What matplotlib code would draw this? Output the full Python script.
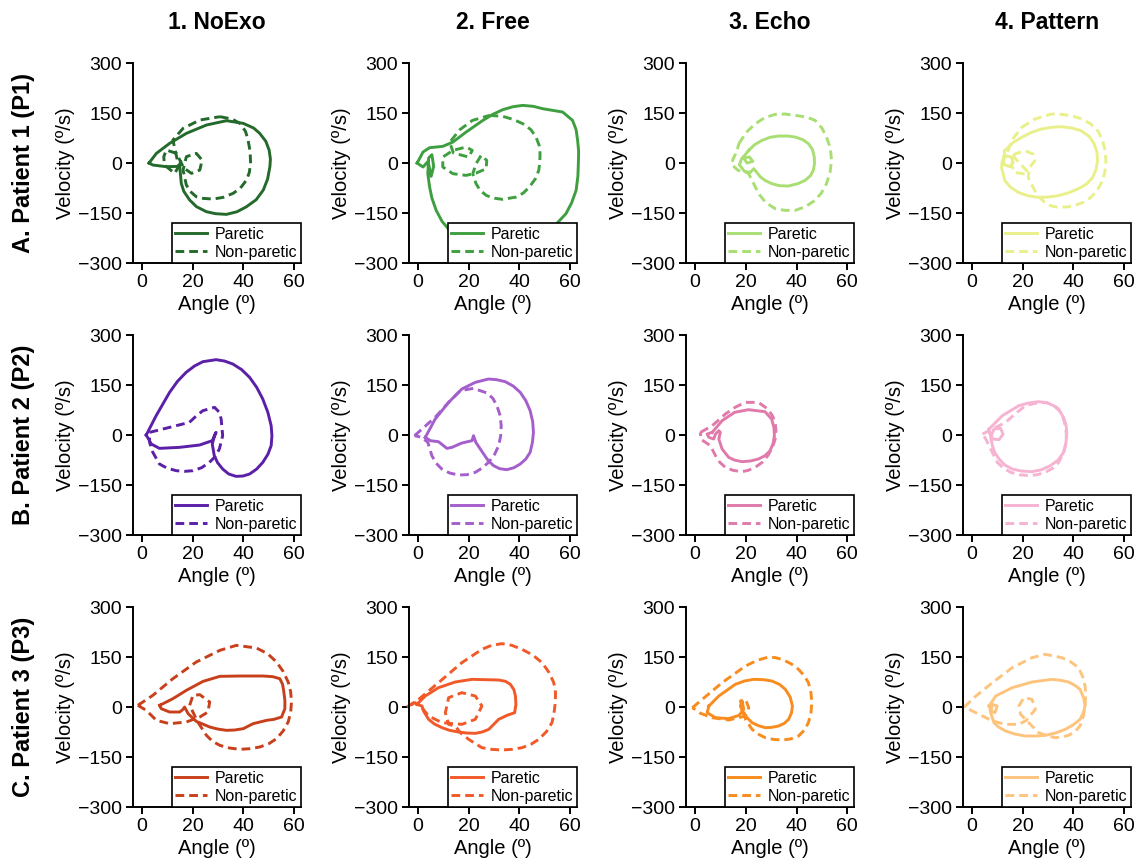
import matplotlib.pyplot as plt
from matplotlib.lines import Line2D

plt.rcParams['font.family'] = ['Liberation Sans', 'DejaVu Sans']

conditions = ["1. NoExo", "2. Free", "3. Echo", "4. Pattern"]
patients = ["A. Patient 1 (P1)", "B. Patient 2 (P2)", "C. Patient 3 (P3)"]
yticks = [-300, -150, 0, 150, 300]
xticks = [0, 20, 40, 60]

colors = [
    ["#236a2b", "#3f9f40", "#a9de72", "#e9f08a"],
    ["#5b1fa8", "#a55fcc", "#e07aab", "#f6b3d2"],
    ["#c8401b", "#f15a28", "#f88c1e", "#fec47d"],
]

# (angle deg, velocity deg/s)
A1_PAR = [(2.8, 0), (5.7, 29), (10.9, 59), (17.5, 89), (25.4, 114), (33.3, 127), (39.9, 119),
          (44.0, 105), (46.4, 89), (48.8, 65), (50.1, 39), (50.6, 12), (50.4, -11), (49.5, -48),
          (47.8, -81), (45.0, -110), (41.2, -131), (37.5, -146), (33.3, -154), (29.0, -152),
          (25.4, -146), (21.5, -131), (18.8, -111), (16.5, -85), (15.5, -61), (14.9, -11),
          (15.3, 5), (14.6, -10), (9.6, -11), (4.3, -6), (2.8, 0)]
A1_NON = [(30.7, 139), (35.5, 132), (38.6, 119), (40.8, 95), (41.8, 69), (42.6, 35), (42.8, -1),
          (42.3, -28), (41.2, -51), (38.8, -75), (35.9, -91), (32.0, -103), (28.0, -108),
          (24.0, -106), (21.4, -101), (19.0, -85), (17.5, -66), (16.2, -21), (17.5, 19),
          (21.4, 29), (23.7, 9), (22.8, -21), (19.5, -31), (16.5, -15), (13.6, 29), (9.6, 39),
          (8.6, 19), (8.9, -6), (12.9, -31), (14.5, -10), (12.2, 69), (16.2, 104), (22.8, 129),
          (30.7, 139)]
A2_PAR = [(-0.3, 0), (2.0, 33), (4.6, 46), (9.8, 50), (13.8, 63), (19.0, 93), (25.6, 128),
          (29.5, 146), (33.4, 160), (37.5, 169), (41.3, 173), (45.5, 170), (49.1, 163),
          (57.0, 153), (60.9, 128), (62.3, 100), (62.9, 68), (63.3, 35), (63.2, 0), (63.0, -40),
          (62.3, -82), (60.5, -120), (58.3, -152), (53.0, -195), (45.0, -222), (32.0, -232),
          (20.0, -220), (12.5, -202), (9.5, -175), (7.2, -142), (5.5, -105), (4.6, -72),
          (3.9, -32), (4.2, 15), (5.5, 25), (6.2, -10), (5.2, -40), (4.0, 5), (2.0, -12),
          (-0.3, 0)]
A2_NON = [(28.2, 143), (33.4, 140), (37.5, 131), (41.3, 118), (44.5, 100), (46.5, 78),
          (47.8, 52), (48.1, 28), (48.0, 3), (47.6, -22), (46.2, -48), (43.9, -72), (41.5, -90),
          (38.7, -102), (33.4, -109), (29.5, -105), (26.9, -97), (24.5, -82), (22.9, -62),
          (21.6, -32), (22.9, -2), (24.9, 23), (27.1, 8), (26.9, -17), (23.0, -30), (19.0, -37),
          (13.8, -32), (9.8, -12), (9.8, 18), (13.8, 38), (19.0, 48), (21.4, 38), (20.0, 18),
          (14.0, 30), (12.5, 62), (16.5, 100), (21.5, 128), (28.2, 143)]
A3_PAR = [(21.2, 38), (23.5, 55), (26.4, 68), (29.5, 77), (32.9, 81), (36.5, 81), (39.5, 78),
          (42.5, 70), (44.7, 58), (46.3, 40), (47.0, 18), (47.1, -2), (46.6, -22), (45.5, -38),
          (43.4, -52), (40.5, -62), (36.8, -69), (33.3, -68), (30.3, -62), (27.8, -53),
          (25.8, -42), (23.2, -17), (21.8, -28), (19.5, -25), (17.5, -5), (18.5, 15),
          (21.5, 18), (22.8, 5), (20.5, 0), (19.0, 18), (21.2, 38)]
A3_NON = [(17.3, 58), (20.2, 92), (23.8, 118), (27.5, 136), (31.6, 146), (35.5, 147),
          (39.5, 143), (44.0, 138), (47.3, 128), (50.0, 105), (51.8, 78), (53.3, 45), (53.8, 8),
          (53.2, -28), (51.8, -62), (49.8, -90), (47.3, -112), (43.5, -131), (39.5, -142),
          (35.5, -142), (31.6, -137), (27.8, -118), (25.1, -92), (22.5, -52), (21.0, -30),
          (17.0, -22), (14.5, -5), (15.0, 12), (16.5, 35), (17.3, 58)]
A4_PAR = [(13.0, 37), (16.0, 60), (19.6, 77), (23.5, 92), (27.4, 102), (31.3, 107), (35.2, 109),
          (39.5, 105), (43.0, 97), (46.2, 80), (48.2, 57), (49.3, 32), (49.5, 7), (48.9, -20),
          (47.6, -43), (45.2, -63), (41.7, -78), (37.8, -90), (33.9, -98), (30.0, -102),
          (26.1, -103), (22.0, -98), (18.3, -88), (15.3, -73), (13.0, -53), (11.7, -13),
          (12.0, 7), (13.8, 22), (15.6, 17), (16.3, 2), (15.0, -11), (12.8, -5), (12.4, 12),
          (13.0, 37)]
A4_NON = [(19.6, 107), (24.8, 132), (31.3, 147), (35.5, 146), (39.1, 142), (43.5, 132),
          (46.9, 117), (49.8, 95), (51.5, 67), (52.5, 37), (52.8, 7), (52.4, -25), (51.5, -53),
          (49.5, -80), (46.9, -103), (43.8, -118), (40.4, -128), (37.0, -132), (33.9, -133),
          (31.0, -128), (28.7, -118), (26.5, -102), (24.8, -83), (22.2, -43), (22.8, -13),
          (24.8, 7), (24.1, 27), (20.9, 37), (16.9, 27), (15.6, -8), (16.9, -28), (20.9, -33),
          (22.2, -28), (14.3, 37), (15.6, 67), (19.6, 107)]

B1_PAR = [(1.7, 0), (5.6, 58), (10.9, 128), (14.0, 161), (17.4, 188), (20.7, 207), (24.0, 220),
          (29.2, 226), (32.5, 222), (35.8, 213), (39.3, 196), (42.4, 173), (45.2, 143),
          (47.6, 108), (49.6, 68), (50.9, 28), (51.2, -2), (50.9, -32), (49.6, -58),
          (47.6, -82), (45.2, -102), (42.4, -117), (39.8, -123), (37.1, -124), (34.2, -117),
          (31.8, -102), (29.8, -83), (28.5, -62), (27.7, -27), (28.6, -2), (29.2, 8),
          (27.7, -17), (22.7, -30), (14.8, -37), (6.9, -40), (3.7, -27), (1.7, 0)]
B1_NON = [(3.0, 8), (10.9, 23), (18.7, 38), (21.5, 58), (24.0, 73), (28.6, 83), (30.5, 68),
          (31.2, 48), (31.8, -2), (30.5, -42), (28.8, -65), (26.6, -82), (23.5, -98),
          (20.1, -107), (16.8, -109), (13.5, -107), (9.8, -99), (6.9, -87), (4.3, -52),
          (3.0, -22), (3.0, 8)]
B2_PAR = [(2.9, -7), (6.8, 48), (12.1, 98), (17.3, 138), (22.6, 158), (27.8, 168), (31.0, 166),
          (34.4, 160), (37.5, 147), (40.3, 128), (42.5, 103), (44.2, 73), (45.2, 40), (45.5, 8),
          (45.1, -22), (44.2, -52), (42.5, -72), (40.3, -87), (37.8, -98), (35.0, -104),
          (32.2, -101), (29.8, -92), (27.6, -76), (25.9, -57), (22.8, -22), (21.9, -2),
          (21.3, -17), (17.3, -24), (13.4, -37), (11.4, -40), (8.1, -20), (4.9, -17),
          (2.9, -7)]
B2_NON = [(-1.3, -2), (1.6, 18), (6.8, 53), (12.1, 98), (16.7, 133), (21.9, 140), (27.2, 126),
          (29.5, 110), (31.1, 88), (32.4, 58), (32.8, 28), (32.6, -2), (31.8, -32),
          (30.2, -58), (27.8, -82), (25.3, -99), (22.6, -112), (19.3, -119), (16.0, -120),
          (12.5, -114), (9.4, -102), (7.0, -83), (5.5, -62), (3.9, -22), (1.6, -7), (-1.3, -2)]
B3_PAR = [(6.8, 8), (10.7, 43), (15.6, 68), (21.1, 76), (27.6, 70), (30.2, 48), (31.1, 23),
          (31.3, -2), (30.8, -25), (29.6, -47), (27.6, -62), (25.0, -72), (21.8, -78),
          (18.5, -80), (15.5, -75), (13.3, -67), (10.7, -42), (9.4, -12), (10.0, 8), (9.4, 13),
          (8.1, 3), (7.4, -12), (5.5, -7), (4.8, 3), (6.8, 8)]
B3_NON = [(2.2, 8), (6.8, 28), (12.0, 63), (15.8, 83), (19.8, 98), (25.0, 98), (28.7, 78),
          (30.5, 58), (31.6, 38), (31.9, 13), (31.6, -12), (30.5, -38), (28.7, -62),
          (26.5, -82), (23.7, -97), (21.0, -106), (18.5, -110), (15.0, -106), (12.0, -97),
          (9.8, -82), (8.1, -62), (6.1, -32), (2.2, -12), (2.2, 8)]
B4_PAR = [(6.8, 18), (12.0, 58), (18.5, 88), (22.3, 96), (26.3, 100), (29.5, 97), (32.2, 88),
          (34.5, 73), (36.1, 53), (37.1, 30), (37.4, 8), (37.1, -22), (36.1, -52), (34.0, -75),
          (30.9, -92), (27.5, -104), (23.7, -110), (19.5, -108), (15.9, -102), (13.0, -90),
          (10.7, -72), (9.0, -52), (8.1, -32), (7.4, -7), (8.7, 18), (11.3, 20), (12.3, 3),
          (10.7, -14), (8.3, -12), (6.8, 8), (6.8, 18)]
B4_NON = [(4.2, 3), (8.1, 18), (13.3, 38), (17.0, 63), (21.1, 88), (24.8, 95), (28.9, 98),
          (32.0, 91), (34.2, 78), (35.8, 55), (36.8, 28), (37.2, 3), (37.2, -22), (36.2, -52),
          (34.2, -82), (31.8, -100), (28.9, -112), (25.8, -119), (22.4, -122), (18.7, -119),
          (15.3, -112), (12.4, -99), (10.0, -82), (7.4, -42), (5.5, -12), (4.2, 3)]

C1_PAR = [(7.0, 5), (12.2, 25), (17.5, 50), (24.1, 77), (30.7, 92), (38.6, 93), (47.8, 93),
          (51.5, 91), (54.3, 85), (55.4, 68), (55.9, 45), (56.3, 20), (56.3, -5), (55.0, -30),
          (52.0, -37), (49.1, -40), (43.8, -50), (39.9, -65), (36.5, -69), (33.3, -70),
          (29.8, -66), (26.7, -60), (21.4, -43), (18.2, -20), (16.8, 0), (16.2, -7),
          (14.9, -15), (10.9, -15), (7.6, -5), (7.0, 5)]
C1_NON = [(-1.6, 5), (4.3, 35), (12.2, 85), (21.4, 135), (30.7, 170), (37.2, 185), (45.1, 177),
          (49.5, 160), (53.0, 135), (55.6, 107), (57.6, 75), (58.6, 45), (58.9, 15),
          (58.6, -15), (57.6, -45), (55.6, -72), (53.0, -95), (50.0, -110), (46.4, -120),
          (42.5, -125), (38.6, -127), (34.5, -123), (30.7, -115), (27.8, -103), (25.4, -85),
          (22.0, -45), (18.8, 5), (20.1, 35), (22.8, 37), (26.7, 15), (26.0, -15), (22.8, -30),
          (17.5, -45), (10.9, -50), (5.7, -40), (1.7, -10), (-1.6, 5)]
C2_PAR = [(-0.4, 8), (2.9, 33), (8.1, 58), (14.7, 75), (21.3, 83), (31.8, 81), (34.5, 77),
          (36.4, 68), (37.8, 52), (38.4, 33), (38.6, 8), (38.1, -17), (35.1, -25), (31.8, -37),
          (27.9, -67), (25.3, -75), (22.6, -79), (19.2, -78), (16.0, -75), (12.5, -70),
          (9.5, -62), (6.5, -51), (4.2, -37), (2.2, -12), (1.6, 3), (-0.4, 8)]
C2_NON = [(-4.3, 0), (0.3, 23), (8.1, 73), (17.3, 133), (25.2, 173), (29.0, 185), (33.1, 190),
          (37.0, 185), (41.0, 173), (45.2, 156), (48.9, 133), (51.6, 104), (53.5, 73),
          (54.2, 43), (54.1, 13), (53.6, -18), (52.8, -47), (50.6, -74), (47.6, -97),
          (44.5, -112), (41.0, -122), (37.0, -127), (33.1, -129), (29.0, -127), (25.2, -122),
          (20.0, -97), (16.7, -77), (14.7, -57), (12.1, -52), (10.8, -17), (12.1, 28),
          (17.3, 43), (22.6, 33), (25.2, 3), (22.6, -37), (17.3, -52), (9.5, -47), (4.2, -27),
          (1.6, -2), (-1.1, 13), (-4.3, 0)]
C3_PAR = [(5.5, 3), (9.4, 33), (15.9, 68), (19.5, 78), (23.1, 83), (27.0, 82), (30.3, 78),
          (33.3, 68), (35.6, 53), (37.5, 30), (38.4, 3), (38.0, -18), (36.9, -37), (35.2, -49),
          (32.9, -57), (30.3, -61), (27.7, -62), (25.0, -56), (22.5, -47), (19.2, -22),
          (17.9, 3), (18.6, 18), (19.2, -7), (17.4, -25), (13.3, -35), (8.1, -32), (4.8, -17),
          (5.5, 3)]
C3_NON = [(-1.0, -2), (2.9, 23), (10.7, 73), (19.9, 123), (24.5, 140), (29.0, 150),
          (31.8, 148), (34.2, 143), (37.8, 130), (40.8, 113), (43.0, 94), (44.7, 73),
          (45.7, 43), (46.0, 13), (45.7, -17), (44.7, -47), (43.0, -70), (40.8, -87),
          (37.6, -96), (34.2, -99), (30.8, -97), (27.7, -92), (24.8, -81), (22.5, -67),
          (19.9, -37), (19.2, -7), (17.9, 18), (19.9, 23), (21.2, -2), (19.9, -27),
          (13.3, -39), (6.8, -32), (2.2, -19), (-1.0, -2)]
C4_PAR = [(6.8, 3), (9.4, 33), (15.9, 58), (23.7, 75), (31.6, 83), (35.0, 80), (38.1, 75),
          (40.6, 65), (42.6, 53), (44.0, 28), (44.6, 3), (43.9, -18), (42.6, -37), (40.0, -53),
          (36.8, -67), (32.9, -78), (28.9, -85), (25.0, -87), (21.1, -87), (16.9, -81),
          (13.3, -72), (10.5, -60), (8.7, -47), (7.4, -17), (8.1, 8), (10.0, 3), (9.1, -17),
          (7.4, -12), (6.8, 3)]
C4_NON = [(-3.0, 0), (1.6, 33), (8.1, 73), (15.9, 118), (23.7, 148), (28.9, 158), (35.5, 148),
          (39.0, 135), (42.0, 118), (43.6, 92), (44.6, 63), (44.8, 33), (44.6, 3), (43.9, -28),
          (42.6, -57), (40.6, -74), (38.1, -85), (35.5, -90), (32.9, -92), (29.5, -86),
          (26.3, -77), (22.4, -47), (19.2, -22), (18.5, 3), (20.5, 28), (23.7, 23), (25.0, -7),
          (21.5, -40), (18.5, -52), (13.3, -52), (8.1, -42), (2.9, -22), (-3.0, 0)]

paretic = [[A1_PAR, A2_PAR, A3_PAR, A4_PAR],
           [B1_PAR, B2_PAR, B3_PAR, B4_PAR],
           [C1_PAR, C2_PAR, C3_PAR, C4_PAR]]
nonparetic = [[A1_NON, A2_NON, A3_NON, A4_NON],
              [B1_NON, B2_NON, B3_NON, B4_NON],
              [C1_NON, C2_NON, C3_NON, C4_NON]]

fig = plt.figure(figsize=(11.4, 8.61), dpi=100)
lefts = [0.1167, 0.3588, 0.6018, 0.8447]
bottoms = [0.6945, 0.3786, 0.0627]
w, h = 0.147, 0.2323
dash = (3.0, 1.7)

for r in range(3):
    for c in range(4):
        ax = fig.add_axes([lefts[c], bottoms[r], w, h])
        col = colors[r][c]
        px, pv = zip(*paretic[r][c])
        nx, nv = zip(*nonparetic[r][c])
        ax.plot(nx, nv, '--', color=col, lw=2.1, dashes=dash, clip_on=False)
        ax.plot(px, pv, '-', color=col, lw=2.1, solid_joinstyle='round', clip_on=False)
        ax.set_xlim(-3.5, 62.5)
        ax.set_ylim(-300, 300)
        ax.set_xticks(xticks)
        ax.set_yticks(yticks)
        for s in ['top', 'right']:
            ax.spines[s].set_visible(False)
        for s in ['left', 'bottom']:
            ax.spines[s].set_linewidth(1.4)
        ax.tick_params(labelsize=14, width=1.4, length=5, direction='out', pad=3)
        ax.set_xlabel("Angle (º)", fontsize=14.5, labelpad=3)
        ax.set_ylabel("Velocity (º/s)", fontsize=14.5, labelpad=2)
        handles = [Line2D([], [], color=col, lw=2.1, ls='-'),
                   Line2D([], [], color=col, lw=2.1, ls='--', dashes=dash)]
        leg = ax.legend(handles, ["Paretic", "Non-paretic"], loc='lower right',
                        borderaxespad=0, fancybox=False, fontsize=11.5, borderpad=0.2,
                        labelspacing=0.2, handletextpad=0.5, framealpha=1)
        leg.get_frame().set_edgecolor('black')
        leg.get_frame().set_linewidth(1.2)
        leg.set_zorder(5)
        if r == 0:
            fig.text(lefts[c] + w / 2, 0.974, conditions[c], ha='center', va='center',
                     fontsize=16.5, fontweight='bold')
    fig.text(0.021, bottoms[r] + h / 2, patients[r], rotation=90, ha='center', va='center',
             fontsize=17, fontweight='bold')

fig.savefig("out.png", dpi=100)
